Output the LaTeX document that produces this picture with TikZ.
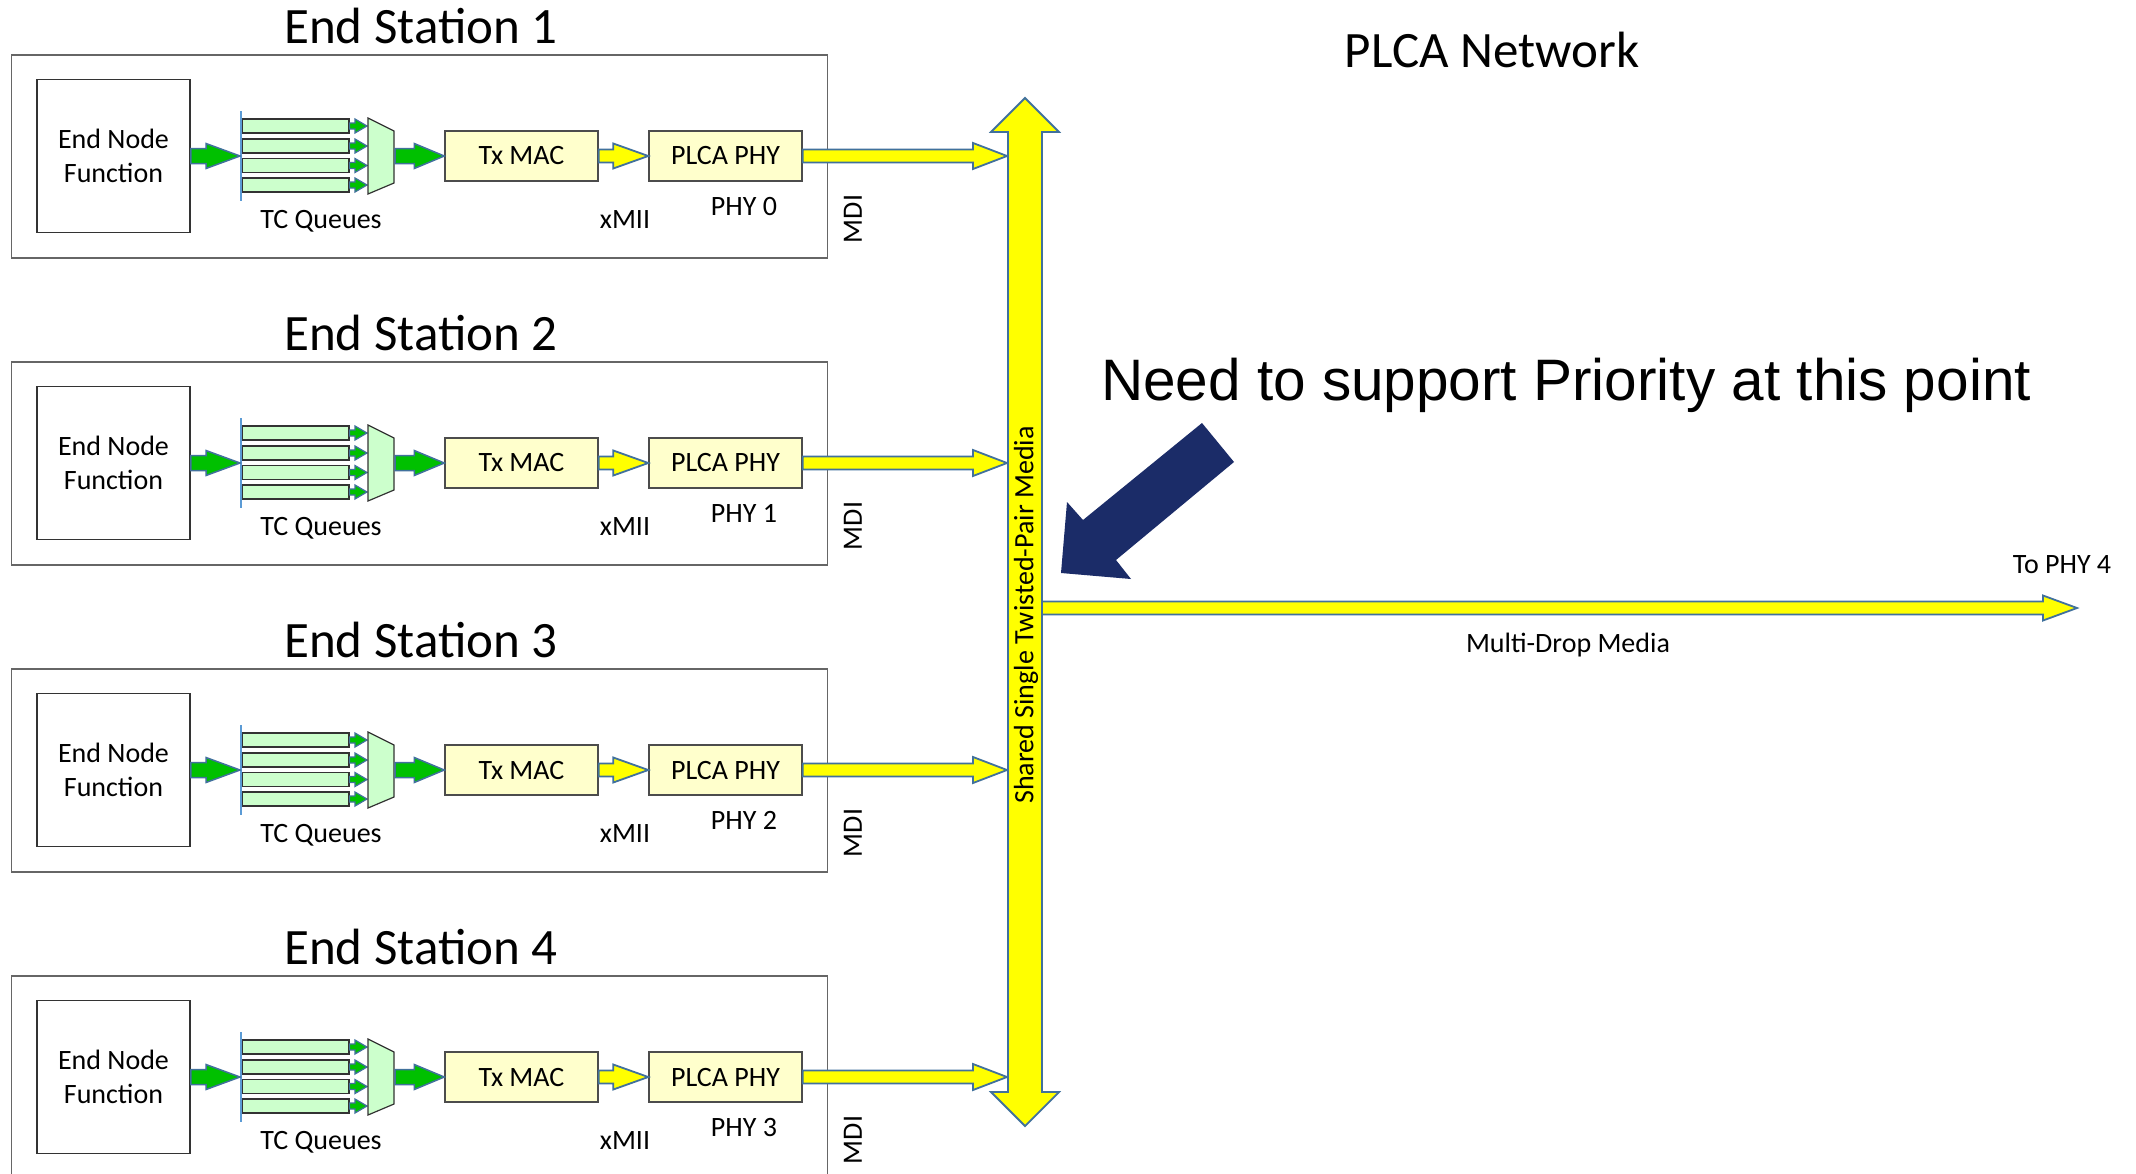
\documentclass[tikz,border=0pt]{standalone}
\usepackage{fontspec}
\setmainfont{Carlito}
\newfontfamily\arialf{Liberation Sans}
\usetikzlibrary{calc}
\definecolor{arrowline}{HTML}{41719C}
\definecolor{grn}{HTML}{00C000}
\definecolor{lgrn}{HTML}{CCFFCC}
\definecolor{lyel}{HTML}{FFFFCC}
\definecolor{yel}{HTML}{FFFF00}
\definecolor{navyc}{HTML}{1B2C68}
\definecolor{qblue}{HTML}{5B9BD5}
\newcommand\harrow[6]{%
  \path[#1] let \p1=(#2), \p2=(#3) in
   (\x1,\y1+#4pt) -- (\x2-#6pt,\y1+#4pt) -- (\x2-#6pt,\y1+#5pt) -- (\x2,\y1)
   -- (\x2-#6pt,\y1-#5pt) -- (\x2-#6pt,\y1-#4pt) -- (\x1,\y1-#4pt) -- cycle;}
\tikzset{
  lbl/.style={font=\fontsize{28}{34}\selectfont, inner sep=0pt},
  ttl/.style={font=\fontsize{51}{60}\selectfont, inner sep=0pt},
  stbox/.style={draw=black!60, line width=1.5pt, minimum width=816pt, minimum height=203pt, inner sep=0pt},
  enfbox/.style={draw=black!80, line width=1.5pt, minimum width=153pt, minimum height=153pt, inner sep=0pt, align=center, font=\fontsize{28}{34}\selectfont},
  ybox/.style={draw=black!70, fill=lyel, line width=1.5pt, minimum width=153pt, minimum height=50pt, inner sep=0pt, font=\fontsize{28}{34}\selectfont},
  qbar/.style={draw=black!80, fill=lgrn, line width=1.2pt, minimum width=107pt, minimum height=14pt, inner sep=0pt},
  mux/.style={draw=black!80, fill=lgrn, line width=1.2pt},
  qline/.style={draw=qblue, line width=2pt},
  garrow/.style={fill=grn, draw=arrowline, line width=1.5pt, line join=miter},
  yarrow/.style={fill=yel, draw=arrowline, line width=1.8pt, line join=miter},
}
\begin{document}
\begin{tikzpicture}[x=1pt,y=-1pt]
\useasboundingbox (0,0) rectangle (2136,1173);
\fill[white] (0,0) rectangle (2136,1173);
% stations
\foreach \k/\s in {0/1,1/2,2/3,3/4}{
  \pgfmathsetmacro\yc{156+307*\k}
  \pgfmathtruncatemacro\phyn{\s-1}
  \node[stbox] (st\s) at (419.5,\yc+0.5) {};
  \node[ttl, anchor=base] (title\s) at (421,\yc-113) {End Station \s};
  \node[enfbox] (enf\s) at (113.5,\yc) {End Node\\Function};
  \foreach \i/\o in {1/-30,2/-10,3/9.5,4/29}{
    \node[qbar] (q\s\i) at (295.5,\yc+\o) {};
    \coordinate (qa\s\i) at (367,\yc+\o);
    \harrow{garrow, line width=1.2pt}{q\s\i.east}{qa\s\i}{3}{7}{12}
  }
  \coordinate (qlt\s) at (241,\yc-45);
  \coordinate (qlb\s) at (241,\yc+45);
  \coordinate (ql\s) at (240,\yc);
  \draw[qline] (qlt\s) -- (qlb\s);
  \draw[mux] (368,\yc-38) -- (394,\yc-25) -- (394,\yc+27) -- (368,\yc+38) -- cycle;
  \coordinate (mx\s) at (395,\yc);
  \node[ybox] (tx\s) at (521.5,\yc) {Tx MAC};
  \node[ybox] (ph\s) at (725.5,\yc) {PLCA PHY};
  \coordinate (bw\s) at (1007,\yc);
  \harrow{garrow}{enf\s.east}{ql\s}{7.5}{12.5}{34}
  \harrow{garrow}{mx\s}{tx\s.west}{7.5}{12.5}{30}
  \harrow{yarrow}{tx\s.east}{ph\s.west}{6.5}{12.5}{35}
  \harrow{yarrow}{ph\s.east}{bw\s}{6.5}{13}{34}
  \node[lbl, anchor=base] (tcq\s) at (321,\yc+72) {TC Queues};
  \node[lbl, anchor=base] (xmii\s) at (625,\yc+72) {xMII};
  \node[lbl, anchor=base] (phyl\s) at (744,\yc+59) {PHY \phyn};
  \node[lbl, rotate=90] (mdi\s) at (853,\yc+63) {MDI};
}
% shared bus
\node[inner sep=0pt, minimum width=34pt, minimum height=960pt] (bus) at (1025,612) {};
\draw[yarrow] (1025,98) -- (1059,132) -- (1042,132) -- (1042,1092) -- (1059,1092)
  -- (1025,1126) -- (991,1092) -- (1008,1092) -- (1008,132) -- (991,132) -- cycle;
\coordinate (mds) at (1042,608);
\coordinate (mde) at (2077,608);
\harrow{yarrow}{mds}{mde}{6.5}{12.5}{34}
\node[lbl, rotate=90] (shared) at (1026,615) {Shared Single Twisted-Pair Media};
% labels
\node[ttl, anchor=base] (plca) at (1492,67) {PLCA Network};
\node[lbl, anchor=base] (tophy) at (2062,573) {To PHY 4};
\node[lbl, anchor=base] (mdm) at (1568,652) {Multi-Drop Media};
\node[font=\arialf\fontsize{58.5}{70}\selectfont, inner sep=0pt, anchor=base] (need) at (1566,400) {Need to support Priority at this point};
% pointer arrow
\fill[navyc] (1202,423) -- (1234,462) -- (1116,560) -- (1131,579) -- (1061,573)
  -- (1067,502) -- (1083,520) -- cycle;
\end{tikzpicture}
\end{document}
